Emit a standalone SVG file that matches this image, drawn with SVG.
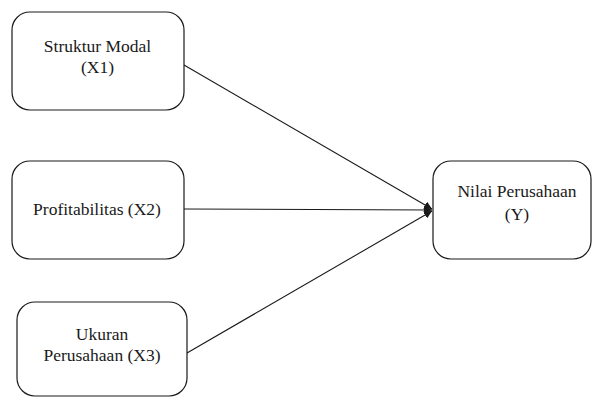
<svg xmlns="http://www.w3.org/2000/svg" width="592" height="397" viewBox="0 0 592 397">
<style>
.box{fill:#fff;stroke:#1a1a1a;stroke-width:1.2}
.t{font-family:'Liberation Serif','Times New Roman',serif;font-size:17.5px;fill:#1a1a1a;text-anchor:middle}
.c{stroke:#1a1a1a;stroke-width:1.1;fill:none;marker-end:url(#ah)}
</style>
<defs>
<marker id="ah" viewBox="0 0 10 10" refX="10" refY="5" markerWidth="8" markerHeight="8" markerUnits="userSpaceOnUse" orient="auto">
<path d="M0,0 L10,5 L0,10 z" fill="#1a1a1a"/>
</marker>
</defs>
<rect width="592" height="397" fill="#fff"/>
<g id="connectors">
<line class="c" x1="184" y1="65" x2="432" y2="209"/>
<line class="c" x1="184" y1="209" x2="432" y2="210"/>
<line class="c" x1="187" y1="353" x2="432" y2="211"/>
</g>
<g id="x1">
<rect class="box" x="12" y="12" width="172" height="98" rx="18"/>
<text class="t" x="97.5" y="52">Struktur Modal</text>
<text class="t" x="97.5" y="73">(X1)</text>
</g>
<g id="x2">
<rect class="box" x="12" y="161" width="172" height="98" rx="18"/>
<text class="t" x="97" y="215">Profitabilitas (X2)</text>
</g>
<g id="x3">
<rect class="box" x="17" y="302" width="170" height="94" rx="18"/>
<text class="t" x="102" y="340">Ukuran</text>
<text class="t" x="102" y="361">Perusahaan (X3)</text>
</g>
<g id="y">
<rect class="box" x="433" y="161" width="158" height="98" rx="18"/>
<text class="t" x="517" y="197">Nilai Perusahaan</text>
<text class="t" x="517" y="220">(Y)</text>
</g>
</svg>
